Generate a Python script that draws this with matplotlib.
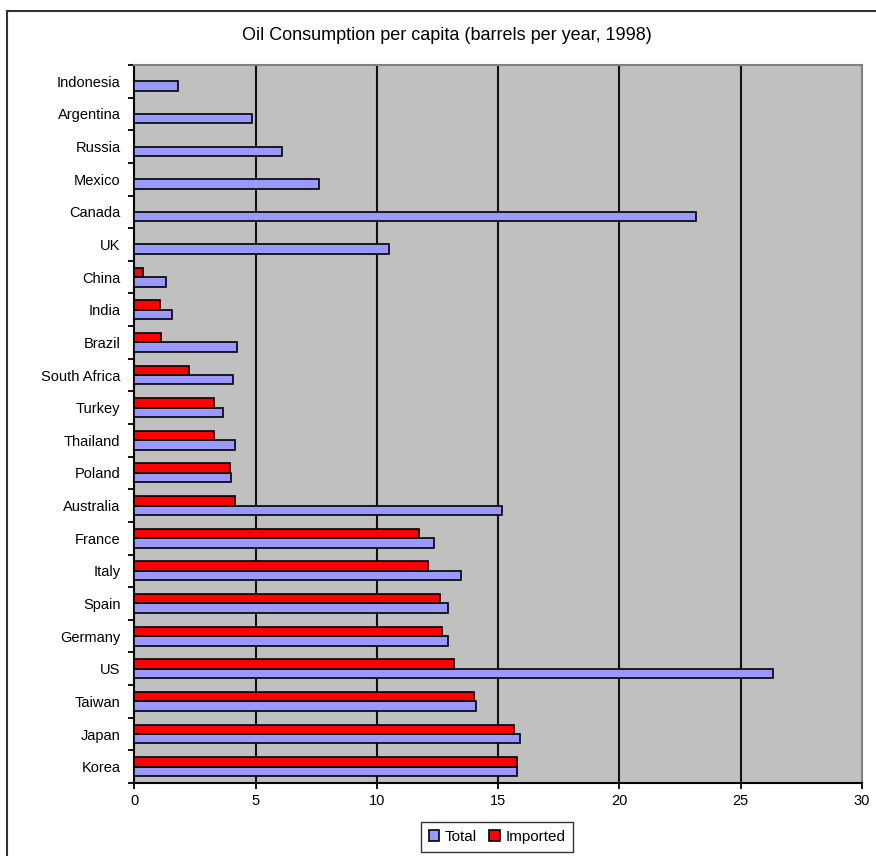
import numpy as np
import matplotlib.pyplot as plt
from matplotlib.lines import Line2D

plt.rcParams['font.family'] = ['Liberation Sans', 'DejaVu Sans']

# countries top to bottom as in the chart
countries = ["Indonesia", "Argentina", "Russia", "Mexico", "Canada", "UK",
             "China", "India", "Brazil", "South Africa", "Turkey", "Thailand",
             "Poland", "Australia", "France", "Italy", "Spain", "Germany",
             "US", "Taiwan", "Japan", "Korea"]
total = [1.8, 4.85, 6.1, 7.6, 23.15, 10.5,
         1.3, 1.55, 4.25, 4.05, 3.65, 4.15,
         3.97, 15.15, 12.35, 13.45, 12.95, 12.95,
         26.35, 14.1, 15.9, 15.8]
imported = [0, 0, 0, 0, 0, 0,
            0.35, 1.05, 1.1, 2.25, 3.3, 3.3,
            3.95, 4.15, 11.75, 12.1, 12.6, 12.7,
            13.2, 14.0, 15.65, 15.8]

fig = plt.figure(figsize=(8.76, 8.56), dpi=100)
ax = fig.add_axes([0.1535, 0.0853, 0.8302, 0.8388])
ax.set_facecolor('#C0C0C0')

y = np.arange(len(countries))
h = 0.29
ax.barh(y + h / 2, total, height=h, color='#9999FF', edgecolor='black',
        linewidth=1.2, label='Total', zorder=3)
imp_y = [yy - h / 2 for yy, v in zip(y, imported) if v > 0]
imp_v = [v for v in imported if v > 0]
ax.barh(imp_y, imp_v, height=h, color='#FF0000', edgecolor='black',
        linewidth=1.2, label='Imported', zorder=3)

ax.set_xlim(0, 30)
ax.set_ylim(len(countries) - 0.5, -0.5)
ax.set_xticks(range(0, 31, 5))
for gx in range(5, 30, 5):
    ax.axvline(gx, color='#111111', linewidth=1.5, zorder=1)

ax.set_yticks(y)
ax.set_yticklabels(countries, fontsize=10.5)
ax.set_yticks(np.arange(-0.5, len(countries), 1), minor=True)
ax.tick_params(axis='y', which='major', length=0, pad=10)
ax.tick_params(axis='y', which='minor', length=4, width=1.3, direction='out')
ax.tick_params(axis='x', length=4, width=1.3, labelsize=10.5, pad=4)

for s in ['left', 'bottom']:
    ax.spines[s].set_color('black')
    ax.spines[s].set_linewidth(1.5)
for s in ['top', 'right']:
    ax.spines[s].set_color('#808080')
    ax.spines[s].set_linewidth(1.5)

fig.text(0.510, 0.959, "Oil Consumption per capita (barrels per year, 1998)",
         ha='center', va='center', fontsize=13)

leg = ax.legend(loc='center', bbox_to_anchor=(497 / 876, 1 - 837 / 856),
                bbox_transform=fig.transFigure, ncol=2, fontsize=11,
                frameon=True, fancybox=False, edgecolor='black',
                handlelength=0.7, handleheight=0.7, handletextpad=0.35,
                columnspacing=0.8, borderpad=0.5)
leg.get_frame().set_linewidth(1.0)

# outer chart border (right and bottom are cut off in the picture)
fig.add_artist(Line2D([6.5 / 876, 6.5 / 876], [0, 1 - 11 / 856],
                      color='#333333', linewidth=1.5, transform=fig.transFigure))
fig.add_artist(Line2D([6.5 / 876, 1], [1 - 11 / 856, 1 - 11 / 856],
                      color='#333333', linewidth=1.5, transform=fig.transFigure))

fig.savefig('out.png', dpi=100)
